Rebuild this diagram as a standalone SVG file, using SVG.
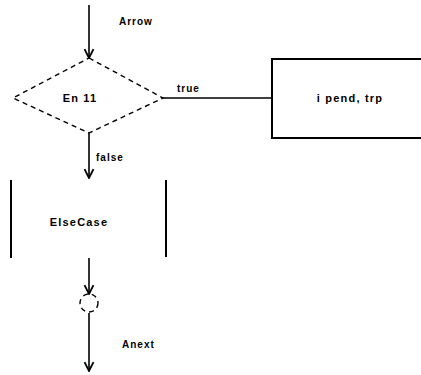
<svg xmlns="http://www.w3.org/2000/svg" width="421" height="375" viewBox="0 0 421 375">
<style>
.ln{stroke:#000;stroke-width:1.6;fill:none}
.dash{stroke:#000;stroke-width:1.4;fill:none;stroke-dasharray:5,4}
.box{stroke:#000;stroke-width:2;fill:#fff}
text{font-family:"Liberation Sans",Arial,sans-serif;font-size:11px;fill:#000;letter-spacing:1.2px;font-weight:bold}
.lbl{font-size:10px;letter-spacing:1px}
</style>
<defs>
<marker id="arr" viewBox="0 0 10 10" refX="9" refY="5" markerWidth="7" markerHeight="7" orient="auto">
<path d="M1,1 L9,5 L1,9" fill="none" stroke="#000" stroke-width="1.6"/>
</marker>
</defs>
<rect width="421" height="375" fill="#fff"/>
<g id="connectors">
<line class="ln" x1="89" y1="5" x2="89" y2="58" marker-end="url(#arr)"/>
<text class="lbl" x="119" y="25">Arrow</text>
<line class="ln" x1="163" y1="98" x2="271" y2="98"/>
<text class="lbl" x="177" y="92">true</text>
<line class="ln" x1="89" y1="133" x2="89" y2="178" marker-end="url(#arr)"/>
<text class="lbl" x="96" y="161">false</text>
<line class="ln" x1="89" y1="258" x2="89" y2="294" marker-end="url(#arr)"/>
<line class="ln" x1="89" y1="313" x2="89" y2="371" marker-end="url(#arr)"/>
<text class="lbl" x="122" y="348">Anext</text>
</g>
<g id="cond">
<polygon class="dash" points="89,58 163,98 89,133 13,98"/>
<text x="80" y="102" text-anchor="middle">En 11</text>
</g>
<g id="then">
<rect class="box" x="272" y="59" width="150" height="79"/>
<text x="350" y="102" text-anchor="middle">i pend, trp</text>
</g>
<g id="else">
<line class="box" x1="11" y1="180" x2="11" y2="258"/>
<line class="box" x1="166" y1="180" x2="166" y2="257"/>
<text x="79" y="226" text-anchor="middle">ElseCase</text>
</g>
<g id="merge">
<circle class="dash" cx="89" cy="303" r="9"/>
</g>
</svg>
